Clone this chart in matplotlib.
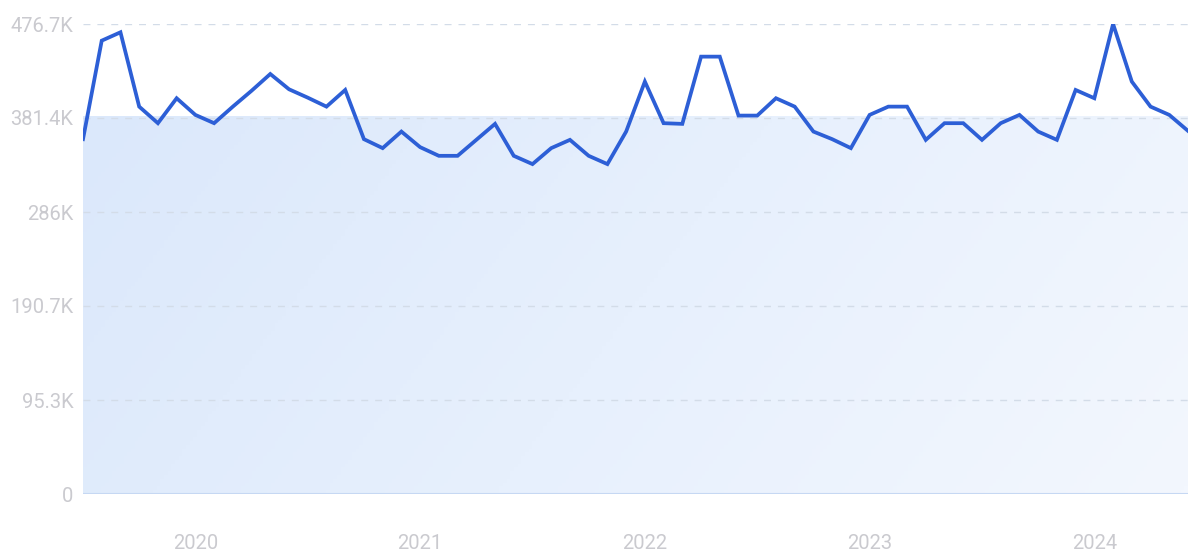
import numpy as np
import matplotlib
matplotlib.use("Agg")
import matplotlib.pyplot as plt
from matplotlib.colors import LinearSegmentedColormap

# monthly values (K), Jul 2019 .. Jun 2024
values = [359.9, 459.8, 468.3, 392.9, 376.1, 401.4, 384.5, 376.1, 392.9, 409.0,
          426.0, 410.5, 402.0, 392.9, 409.8, 359.9, 350.8, 367.6, 351.8, 343.0,
          343.0, 359.2, 375.4, 343.0, 334.6, 350.8, 359.2, 343.0, 334.6, 367.6,
          418.3, 376.1, 375.4, 443.6, 443.6, 383.8, 383.8, 401.4, 392.9, 367.6,
          359.9, 350.8, 384.5, 392.9, 392.9, 359.2, 376.1, 376.1, 359.2, 376.1,
          384.5, 367.6, 359.2, 409.8, 401.4, 476.7, 418.3, 392.9, 384.5, 368.3]
years = ["2020", "2021", "2022", "2023", "2024"]
year_pos = [6, 18, 30, 42, 54]   # index of January in each year
y_ticks = [0, 95.3, 190.7, 286.0, 381.4, 476.7]
y_labels = ["0", "95.3K", "190.7K", "286K", "381.4K", "476.7K"]

plt.rcParams['font.family'] = ['Roboto', 'DejaVu Sans']

x = np.arange(len(values))
y = np.array(values)
fill_level = y.mean()

fig = plt.figure(figsize=(12, 5.58), dpi=100)
ax = fig.add_axes([83/1200, 64/558, (1188-83)/1200, (494-24)/558])
ax.set_xlim(x[0], x[-1])
ax.set_ylim(0, 476.7)

# gradient rectangle up to the average level
cmap = LinearSegmentedColormap.from_list("bg", ["#dbe8fb", "#e7f0fd", "#f3f7fe"])
gx, gy = np.meshgrid(np.linspace(0, 1, 300), np.linspace(0, 1, 100))
grad = gx * 0.8 + (1 - gy) * 0.2
im = ax.imshow(grad, cmap=cmap, extent=[x[0], x[-1], 0, fill_level],
               origin="lower", aspect="auto", zorder=0)
rect = plt.Rectangle((x[0], 0), x[-1] - x[0], fill_level, transform=ax.transData)
im.set_clip_path(rect)

# grid
for t in y_ticks[1:]:
    ax.axhline(t, color="#d3dce8", lw=1, ls=(0, (5, 5)), zorder=1)
ax.axhline(0, color="#c6d8f3", lw=1.5, zorder=2)

ax.plot(x, y, color="#2d5fd6", lw=2.7, solid_joinstyle="miter", zorder=3)

for s in ax.spines.values():
    s.set_visible(False)
ax.set_yticks(y_ticks)
ax.set_yticklabels(y_labels)
ax.set_xticks(year_pos)
ax.set_xticklabels(years)
ax.tick_params(axis="both", length=0, colors="#cacacf", labelsize=14.5)
ax.tick_params(axis="y", pad=7)
ax.tick_params(axis="x", pad=29)

fig.savefig("out.png", dpi=100)
